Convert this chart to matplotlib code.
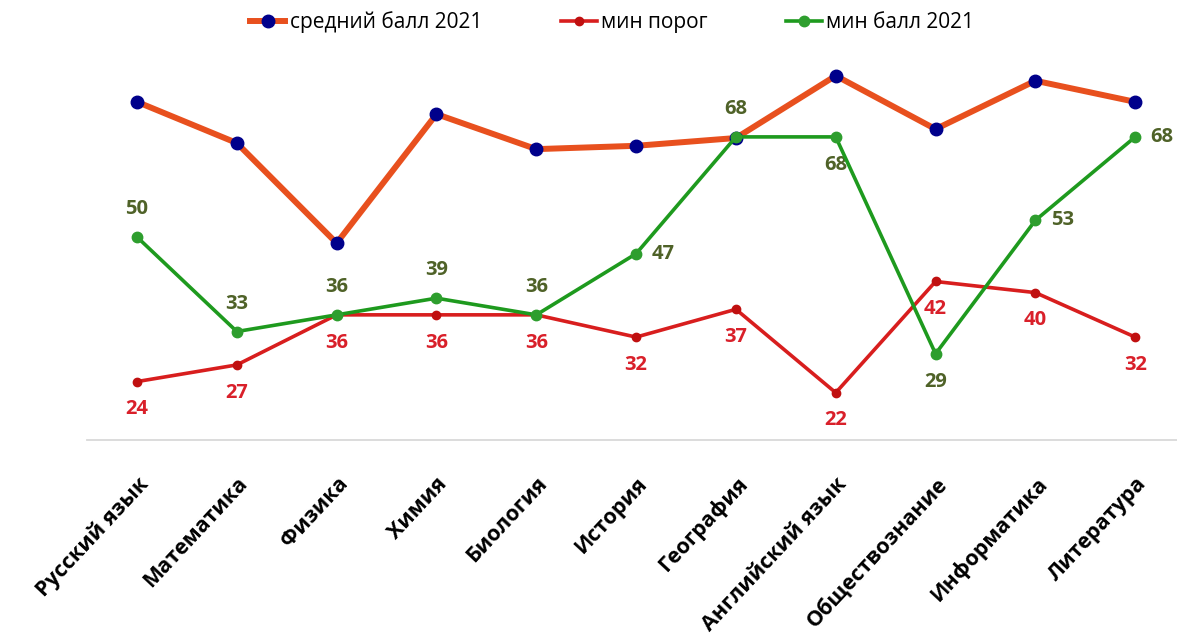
import matplotlib.pyplot as plt

subjects = ["Русский язык", "Математика", "Физика", "Химия", "Биология", "История",
            "География", "Английский язык", "Обществознание", "Информатика", "Литература"]
avg_2021 = [74.3, 66.9, 48.9, 72.1, 65.8, 66.4, 67.8, 79.0, 69.4, 78.1, 74.3]
min_threshold = [24, 27, 36, 36, 36, 32, 37, 22, 42, 40, 32]
min_2021 = [50, 33, 36, 39, 36, 47, 68, 68, 29, 53, 68]

# where the labels of the green series sit
green_pos = ["above", "above", "above", "above", "above", "right",
             "above", "below", "below", "right", "right"]

plt.rcParams["font.family"] = ["Open Sans", "DejaVu Sans"]

fig = plt.figure(figsize=(11.77, 6.37), dpi=100)
ax = fig.add_axes([0.074, 0.3093, 0.9329, 0.598])

x = list(range(len(subjects)))

ax.plot(x, avg_2021, color="#E8501E", linewidth=4.3, marker="o", markersize=9,
        markerfacecolor="#00008B", markeredgecolor="#00008B", label="средний балл 2021", zorder=2)
ax.plot(x, min_threshold, color="#D81E1E", linewidth=2.6, marker="o", markersize=6,
        markerfacecolor="#C01010", markeredgecolor="#C01010", label="мин порог", zorder=3)
ax.plot(x, min_2021, color="#1E9A1E", linewidth=2.6, marker="o", markersize=7.5,
        markerfacecolor="#2E9E2E", markeredgecolor="#2E9E2E", label="мин балл 2021", zorder=4)

for i, v in enumerate(min_threshold):
    ax.annotate(str(v), (i, v), xytext=(0, -20), textcoords="offset points",
                ha="center", va="center", fontsize=14.5, fontweight="bold", color="#D9202A")

for i, v in enumerate(min_2021):
    pos = green_pos[i]
    if pos == "above":
        off, ha = (0, 20), "center"
    elif pos == "below":
        off, ha = (0, -20), "center"
    else:
        off, ha = (11, 0), "left"
    ax.annotate(str(v), (i, v), xytext=off, textcoords="offset points",
                ha=ha, va="center", fontsize=14.5, fontweight="bold", color="#4F6228")

ax.set_xlim(-0.5, 10.5)
ax.set_ylim(13.5, 82)
ax.set_yticks([])
ax.set_xticks(x)
ax.set_xticklabels(subjects, rotation=47, ha="right", va="top", rotation_mode="anchor",
                   fontsize=15.5, fontweight="bold")
ax.tick_params(axis="x", length=0, pad=24)

for side in ["left", "right", "top"]:
    ax.spines[side].set_visible(False)
ax.spines["bottom"].set_color("#D9D9D9")
ax.spines["bottom"].set_linewidth(1.3)

fig.legend(loc="upper center", bbox_to_anchor=(0.52, 1.012), ncol=3, frameon=False,
           fontsize=15, handlelength=1.7, columnspacing=3.8, handletextpad=0.2)

fig.savefig("out.png", dpi=100)
